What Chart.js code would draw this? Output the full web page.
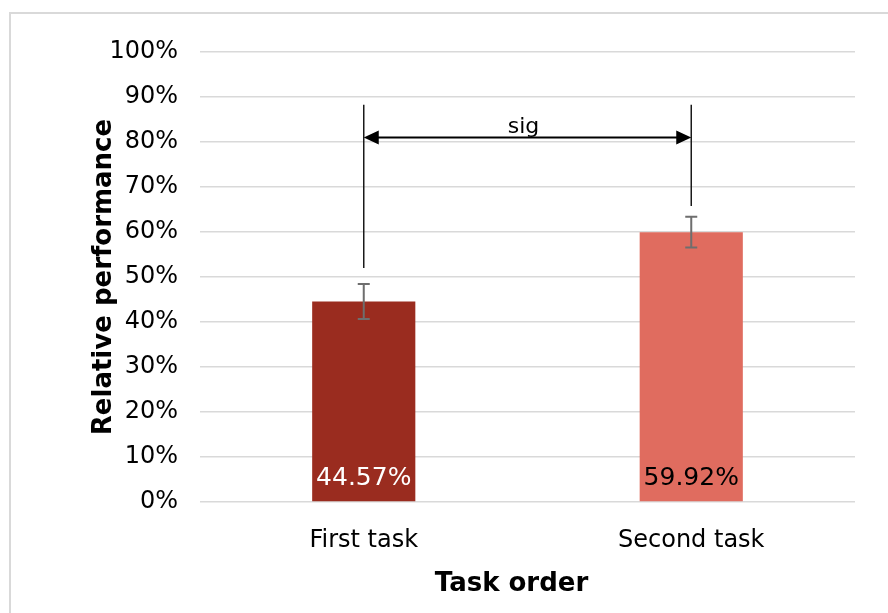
<!DOCTYPE html>
<html>
<head>
<meta charset="utf-8">
<script src="https://cdn.jsdelivr.net/npm/chart.js@4.4.1/dist/chart.umd.min.js"></script>
<style>
  html, body { margin: 0; padding: 0; background: #ffffff; }
  #wrap { width: 888px; height: 613px; }
</style>
</head>
<body>
<div id="wrap"><canvas id="c" width="888" height="613"></canvas></div>
<script>
// Task order results
const categories = ['First task', 'Second task'];
const values = [44.57, 59.92];
const errUp = [3.85, 3.45];
const errDown = [3.9, 3.35];
const valueLabels = ['44.57%', '59.92%'];
const barColors = ['#9a2c1f', '#e06c5f'];
const labelColors = ['#ffffff', '#000000'];
const xTitle = 'Task order';
const yTitle = 'Relative performance';

// Significance bracket between the two tasks (values in %)
const sigText = 'sig';
const bracketTop = 88.3;
const bracketArrow = 81.0;
const bracketFoot = [52.0, 65.8];

const FONT = 'DejaVu Sans';

const framePlugin = {
  id: 'frame',
  beforeDraw(chart) {
    const ctx = chart.ctx;
    ctx.save();
    ctx.fillStyle = '#ffffff';
    ctx.fillRect(0, 0, chart.width, chart.height);
    ctx.strokeStyle = '#d9d9d9';
    ctx.lineWidth = 2;
    ctx.strokeRect(10, 13, chart.width + 20, chart.height + 20);
    ctx.restore();
  }
};

const extrasPlugin = {
  id: 'extras',
  afterDatasetsDraw(chart) {
    const ctx = chart.ctx;
    const y = chart.scales.y;
    const meta = chart.getDatasetMeta(0);
    const area = chart.chartArea;
    ctx.save();

    // error bars
    ctx.strokeStyle = '#6e6e6e';
    ctx.lineWidth = 2;
    meta.data.forEach((bar, i) => {
      const cx = bar.x;
      const yt = y.getPixelForValue(values[i] + errUp[i]);
      const yb = y.getPixelForValue(values[i] - errDown[i]);
      ctx.beginPath();
      ctx.moveTo(cx, yt); ctx.lineTo(cx, yb);
      ctx.moveTo(cx - 6, yt); ctx.lineTo(cx + 6, yt);
      ctx.moveTo(cx - 6, yb); ctx.lineTo(cx + 6, yb);
      ctx.stroke();
    });

    // value labels at the foot of each bar
    ctx.font = '25px "' + FONT + '"';
    ctx.textAlign = 'center';
    ctx.textBaseline = 'middle';
    const y0 = y.getPixelForValue(0);
    meta.data.forEach((bar, i) => {
      ctx.fillStyle = labelColors[i];
      ctx.fillText(valueLabels[i], bar.x, y0 - 24);
    });

    // significance bracket
    const xl = meta.data[0].x, xr = meta.data[1].x;
    const yTop = y.getPixelForValue(bracketTop);
    const yArr = y.getPixelForValue(bracketArrow);
    ctx.strokeStyle = '#1a1a1a';
    ctx.lineWidth = 1.5;
    ctx.beginPath();
    ctx.moveTo(xl, yTop); ctx.lineTo(xl, y.getPixelForValue(bracketFoot[0]));
    ctx.moveTo(xr, yTop); ctx.lineTo(xr, y.getPixelForValue(bracketFoot[1]));
    ctx.stroke();

    ctx.strokeStyle = '#000000';
    ctx.lineWidth = 2;
    ctx.beginPath();
    ctx.moveTo(xl + 10, yArr); ctx.lineTo(xr - 10, yArr);
    ctx.stroke();
    ctx.fillStyle = '#000000';
    ctx.beginPath();
    ctx.moveTo(xl, yArr); ctx.lineTo(xl + 15, yArr - 7); ctx.lineTo(xl + 15, yArr + 7); ctx.closePath();
    ctx.moveTo(xr, yArr); ctx.lineTo(xr - 15, yArr - 7); ctx.lineTo(xr - 15, yArr + 7); ctx.closePath();
    ctx.fill();

    ctx.font = '22px "' + FONT + '"';
    ctx.textAlign = 'center';
    ctx.textBaseline = 'alphabetic';
    ctx.fillText(sigText, (xl + xr) / 2 - 4, yArr - 5);

    // horizontal axis title
    ctx.font = 'bold 26px "' + FONT + '"';
    ctx.fillText(xTitle, (area.left + area.right) / 2 - 16, 591);

    ctx.restore();
  }
};

new Chart(document.getElementById('c'), {
  type: 'bar',
  data: {
    labels: categories,
    datasets: [{
      data: values,
      backgroundColor: barColors,
      borderWidth: 0,
      barPercentage: 0.315,
      categoryPercentage: 1.0
    }]
  },
  options: {
    responsive: false,
    animation: false,
    layout: { padding: { top: 52, right: 33, left: 0, bottom: 0 } },
    plugins: { legend: { display: false }, tooltip: { enabled: false } },
    scales: {
      x: {
        grid: { display: false },
        border: { display: false },
        ticks: { color: '#000000', font: { family: FONT, size: 24 }, padding: 16 },
        afterFit(s) { s.height = 111; }
      },
      y: {
        min: 0, max: 100,
        ticks: {
          stepSize: 10, color: '#000000', padding: 22,
          font: { family: FONT, size: 24 },
          callback: v => v + '%'
        },
        grid: { color: '#d9d9d9', lineWidth: 1.5, drawTicks: false },
        border: { display: false },
        title: {
          display: true, text: yTitle, color: '#000000',
          font: { family: FONT, size: 26, weight: 'bold' },
          padding: { top: 89, bottom: 0 }
        },
        afterFit(s) { s.width = 200; }
      }
    }
  },
  plugins: [framePlugin, extrasPlugin]
});
</script>
</body>
</html>
